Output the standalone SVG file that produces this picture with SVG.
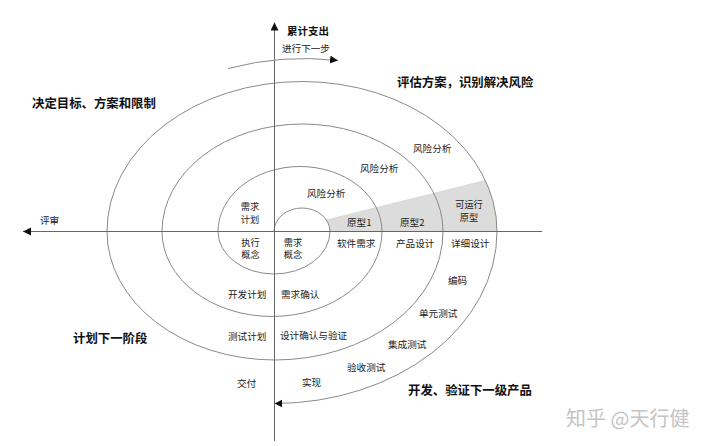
<svg xmlns="http://www.w3.org/2000/svg" width="720" height="446" viewBox="0 0 720 446">
<style>
text{font-family:"Noto Sans CJK SC","Noto Sans",sans-serif;fill:#222;}
.t{font-size:9.6px;}
.s{font-size:9.2px;}
.h{font-size:12.4px;font-weight:bold;fill:#111;}
.c{text-anchor:middle;}
.arc{fill:none;stroke:#8a8a8a;stroke-width:1;}
.axis{fill:none;stroke:#666;stroke-width:1;}
.wm{font-size:20px;fill:#c4c4c4;}
</style>
<defs>
<marker id="ah" markerUnits="userSpaceOnUse" markerWidth="9" markerHeight="9" refX="8" refY="4" orient="auto">
<path d="M0,0 L8,4 L0,8 Z" fill="#111"/>
</marker>
</defs>
<rect width="720" height="446" fill="#fff"/>
<g id="shade">
<path d="M278,231.5 L485.1,179.9 A195,150 0 0 1 497,231.5 Z" fill="#dcdcdc"/>
<path d="M274,231.5 A28,23.5 0 0 1 330,231.5 Z" fill="#fff"/>
</g>
<g id="spiral">
<path class="arc" d="M274,231.5 A28,23.5 0 0 1 330,231.5"/>
<path class="arc" d="M330,231.5 A56,42.5 0 0 1 218,231.5"/>
<path class="arc" d="M218,231.5 A82,65 0 0 1 382,231.5"/>
<path class="arc" d="M382,231.5 A110,85 0 0 1 162,231.5"/>
<path class="arc" d="M162,231.5 A140.5,107.5 0 0 1 443,231.5"/>
<path class="arc" d="M443,231.5 A168,128.5 0 0 1 107,231.5"/>
<path class="arc" d="M107,231.5 A195,150 0 0 1 497,231.5"/>
<path class="arc" d="M497,231.5 A223,172 0 0 1 274.5,403.5" marker-end="url(#ah)"/>
</g>
<g id="connectors">
<path class="axis" d="M542,231.5 L23,231.5" marker-end="url(#ah)"/>
<path class="axis" d="M274.5,441 L274.5,22.5" marker-end="url(#ah)"/>
<path class="arc" d="M228,68.5 Q283,54 338,60.5" marker-end="url(#ah)"/>
</g>
<g id="headings">
<text class="h" x="287" y="35" style="font-size:10.5px">累计支出</text>
<text class="h" x="32" y="108">决定目标、方案和限制</text>
<text class="h" x="397" y="87">评估方案，识别解决风险</text>
<text class="h" x="73" y="343">计划下一阶段</text>
<text class="h" x="408" y="395">开发、验证下一级产品</text>
</g>
<g id="labels">
<text class="t" x="282" y="52">进行下一步</text>
<text class="t" x="40" y="224">评审</text>
<text class="t" x="413" y="152">风险分析</text>
<text class="t" x="360" y="172">风险分析</text>
<text class="t" x="307" y="197">风险分析</text>
<text class="s c" x="250" y="210">需求</text>
<text class="s c" x="250" y="222.5">计划</text>
<text class="s c" x="250.5" y="245.5">执行</text>
<text class="s c" x="250.5" y="258">概念</text>
<text class="s c" x="293" y="245.5">需求</text>
<text class="s c" x="293" y="258">概念</text>
<text class="t" x="347" y="226">原型1</text>
<text class="t" x="400" y="226">原型2</text>
<text class="s c" x="469" y="208">可运行</text>
<text class="s c" x="469" y="220.5">原型</text>
<text class="t" x="337" y="247">软件需求</text>
<text class="t" x="396" y="247">产品设计</text>
<text class="t" x="451" y="247">详细设计</text>
<text class="t" x="448" y="284">编码</text>
<text class="t" x="419" y="317">单元测试</text>
<text class="t" x="388" y="348">集成测试</text>
<text class="t" x="347" y="371">验收测试</text>
<text class="t" x="302" y="386">实现</text>
<text class="t" x="237" y="387">交付</text>
<text class="t" x="228" y="298">开发计划</text>
<text class="t" x="281" y="298">需求确认</text>
<text class="t" x="228" y="340">测试计划</text>
<text class="t" x="280" y="339">设计确认与验证</text>
</g>
<text class="wm" x="566" y="426">知乎 @天行健</text>
</svg>
